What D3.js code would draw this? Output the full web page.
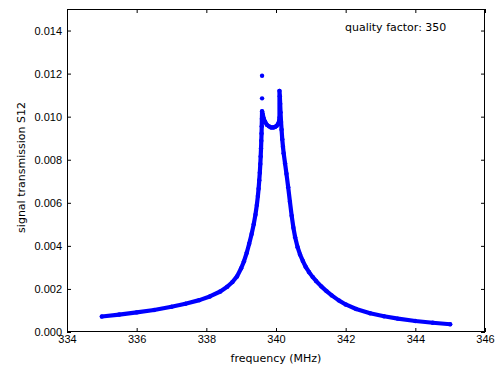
<!DOCTYPE html>
<html>
<head>
<meta charset="utf-8">
<script src="https://cdn.jsdelivr.net/npm/d3@7"></script>
<style>
  body { margin: 0; background: #fff; }
  svg { display: block; font-family: "DejaVu Sans", sans-serif; }
  .axis text { font-size: 11px; fill: #000; }
  .axis line { stroke: #000; }
  .axis path { display: none; }
</style>
</head>
<body>
<div id="chart"></div>
<script>
const freqs = [
  335.0, 335.5, 336.0, 336.5, 337.0, 337.4, 337.8, 338.1, 338.4, 338.6,
  338.75, 338.88, 339.00, 339.08, 339.16, 339.23, 339.30, 339.36, 339.41, 339.45,
  339.48, 339.50, 339.52, 339.535, 339.55, 339.56, 339.57, 339.578, 339.585, 339.59,
  339.595, 339.60,
  // dip between the two peaks
  339.62, 339.65, 339.69, 339.74, 339.80, 339.86, 339.92, 339.97, 340.02, 340.06,
  340.09, 340.10,
  // right peak and tail
  340.10, 340.11, 340.12, 340.13, 340.145, 340.16, 340.18, 340.20, 340.22, 340.26,
  340.30, 340.35, 340.40, 340.45, 340.50, 340.55, 340.62, 340.69, 340.77, 340.85,
  340.95, 341.05, 341.15, 341.30, 341.45, 341.60, 341.80, 342.00, 342.30, 342.70,
  343.10, 343.50, 344.00, 344.50, 345.00
];
const s12 = [
  0.00072, 0.00081, 0.00091, 0.00102, 0.00117, 0.00131, 0.00148, 0.00165, 0.00188, 0.00210,
  0.00232, 0.00258, 0.00296, 0.00328, 0.00368, 0.00410, 0.00455, 0.00500, 0.00545, 0.00590,
  0.00632, 0.00665, 0.00705, 0.00740, 0.00780, 0.00815, 0.00852, 0.00888, 0.00922, 0.00955,
  0.00990, 0.01025,
  0.01010, 0.00990, 0.00975, 0.00962, 0.00955, 0.00950, 0.00950, 0.00952, 0.00958, 0.00966,
  0.00980, 0.00995,
  0.01120, 0.01095, 0.01060, 0.01020, 0.00975, 0.00940, 0.00895, 0.00860, 0.00830, 0.00783,
  0.00735, 0.00672, 0.00605, 0.00540, 0.00484, 0.00440, 0.00394, 0.00360, 0.00330, 0.00303,
  0.00278, 0.00256, 0.00237, 0.00212, 0.00190, 0.00170, 0.00147, 0.00128, 0.00107, 0.00087,
  0.00073, 0.00062, 0.00051, 0.00043, 0.00036
];

// stray points above the left peak
const strayFreqs = [339.60, 339.60];
const strayS12 = [0.01190, 0.01085];

const xTicks = [334, 336, 338, 340, 342, 344, 346];
const yTicks = [0.000, 0.002, 0.004, 0.006, 0.008, 0.010, 0.012, 0.014];
const qualityFactor = 350;

// dimensions
const svgWidth = 495,
    svgHeight = 366,
    margin = { top: 9, right: 10, bottom: 34, left: 67 },
    width = svgWidth - margin.left - margin.right,
    height = svgHeight - margin.top - margin.bottom;

const x = d3.scaleLinear().domain([334, 346]).range([0, width]);
const y = d3.scaleLinear().domain([0, 0.015]).range([height, 0]);

const svg = d3.select("#chart")
    .append("svg")
    .attr("width", svgWidth)
    .attr("height", svgHeight);

const g = svg.append("g")
    .attr("transform", `translate(${margin.left}, ${margin.top})`);

const points = freqs.map((f, i) => ({ f: f, v: s12[i] }));
const stray = strayFreqs.map((f, i) => ({ f: f, v: strayS12[i] }));

// trace: thick line so the dense scatter reads as continuous
const line = d3.line()
    .x(d => x(d.f))
    .y(d => y(d.v));

g.append("path")
    .datum(points)
    .attr("d", line)
    .attr("fill", "none")
    .attr("stroke", "#0000ff")
    .attr("stroke-width", 4.2)
    .attr("stroke-linecap", "round")
    .attr("stroke-linejoin", "round");

g.selectAll("circle.pt")
    .data(points.concat(stray))
    .join("circle")
    .attr("class", "pt")
    .attr("cx", d => x(d.f))
    .attr("cy", d => y(d.v))
    .attr("r", 2.2)
    .attr("fill", "#0000ff");

// axes, classic ticks pointing inwards on all four sides
g.append("g")
    .attr("class", "axis")
    .attr("transform", `translate(0,${height})`)
    .call(d3.axisBottom(x).tickValues(xTicks).tickSize(-4).tickPadding(3).tickFormat(d3.format("d")));

g.append("g")
    .attr("class", "axis")
    .call(d3.axisTop(x).tickValues(xTicks).tickSize(-4).tickFormat(""));

g.append("g")
    .attr("class", "axis")
    .call(d3.axisLeft(y).tickValues(yTicks).tickSize(-4).tickPadding(5).tickFormat(d3.format(".3f")));

g.append("g")
    .attr("class", "axis")
    .attr("transform", `translate(${width},0)`)
    .call(d3.axisRight(y).tickValues(yTicks).tickSize(-4).tickFormat(""));

// frame
g.append("rect")
    .attr("x", 0.5)
    .attr("y", 0.5)
    .attr("width", width - 1)
    .attr("height", height - 1)
    .attr("fill", "none")
    .attr("stroke", "#000")
    .attr("stroke-width", 1);

// labels
svg.append("text")
    .attr("x", margin.left + width / 2)
    .attr("y", 362)
    .attr("text-anchor", "middle")
    .attr("font-size", 11)
    .text("frequency (MHz)");

svg.append("text")
    .attr("transform", `translate(25, ${margin.top + height / 2 - 3}) rotate(-90)`)
    .attr("text-anchor", "middle")
    .attr("font-size", 11)
    .text("signal transmission S12");

svg.append("text")
    .attr("x", 345)
    .attr("y", 30.5)
    .attr("font-size", 11)
    .text(`quality factor: ${qualityFactor}`);
</script>
</body>
</html>
